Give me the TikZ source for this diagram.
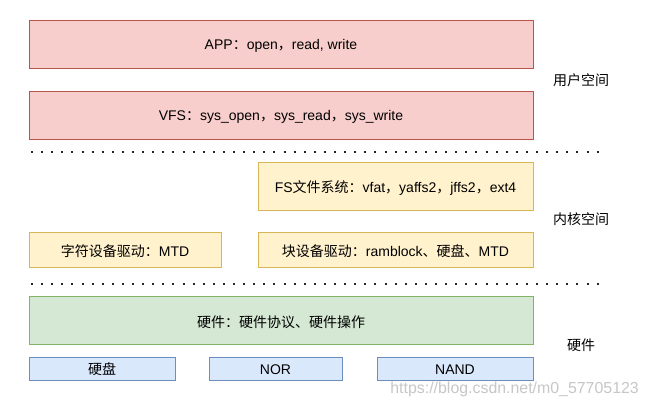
\documentclass[tikz,border=0pt]{standalone}
\usepackage{fontspec}
\setmainfont{Liberation Sans}
\newfontfamily\cjk{Noto Sans CJK SC}
\definecolor{redfill}{HTML}{F8CECC}\definecolor{redline}{HTML}{B85450}
\definecolor{yelfill}{HTML}{FFF2CC}\definecolor{yelline}{HTML}{D6B656}
\definecolor{grnfill}{HTML}{D5E8D4}\definecolor{grnline}{HTML}{82B366}
\definecolor{blufill}{HTML}{DAE8FC}\definecolor{bluline}{HTML}{6C8EBF}
\tikzset{
 box/.style={draw, line width=0.8pt, inner sep=0pt, font=\fontsize{14}{16}\selectfont},
 lbl/.style={inner sep=0pt, font=\fontsize{14}{16}\selectfont},
 redbox/.style={box, fill=redfill, draw=redline},
 yelbox/.style={box, fill=yelfill, draw=yelline},
 grnbox/.style={box, fill=grnfill, draw=grnline},
 blubox/.style={box, fill=blufill, draw=bluline},
 sep/.style={line width=2pt, dash pattern=on 2pt off 8.1pt, draw=black!85},
 side/.style={font=\fontsize{14}{16}\selectfont\cjk, anchor=center}
}
\begin{document}
\begin{tikzpicture}[x=1pt,y=-1pt]
\useasboundingbox (0,0) rectangle (647,409);
\fill[white] (0,0) rectangle (647,409);
\node[redbox, minimum width=504pt, minimum height=48pt] (app) at (281,44) {};
\node[lbl] (appt) at (281,46) {APP{\cjk ：}open{\cjk ，}read, write};
\node[redbox, minimum width=504pt, minimum height=48pt] (vfs) at (281,115) {};
\node[lbl] (vfst) at (281,117) {VFS{\cjk ：}sys\_open{\cjk ，}sys\_read{\cjk ，}sys\_write};
\coordinate (d1a) at (31,152); \coordinate (d1b) at (600,152);
\draw[sep] (d1a) -- (d1b);
\node[yelbox, minimum width=275pt, minimum height=48pt] (fs) at (395.5,186) {};
\node[lbl] (fst) at (395.5,188) {FS{\cjk 文件系统：}vfat{\cjk ，}yaffs2{\cjk ，}jffs2{\cjk ，}ext4};
\node[yelbox, minimum width=192pt, minimum height=35pt] (chr) at (125,249.5) {};
\node[lbl] (chrt) at (125,251) {{\cjk 字符设备驱动：}MTD};
\node[yelbox, minimum width=275pt, minimum height=35pt] (blk) at (395.5,249.5) {};
\node[lbl] (blkt) at (395.5,251) {{\cjk 块设备驱动：}ramblock{\cjk 、硬盘、}MTD};
\coordinate (d2a) at (31,284); \coordinate (d2b) at (600,284);
\draw[sep] (d2a) -- (d2b);
\node[grnbox, minimum width=504pt, minimum height=48pt] (hw) at (281,320) {};
\node[lbl] (hwt) at (281,322) {\cjk 硬件：硬件协议、硬件操作};
\node[blubox, minimum width=146pt, minimum height=23pt] (hd) at (102,368.5) {};
\node[lbl] (hdt) at (102,369.5) {\cjk 硬盘};
\node[blubox, minimum width=133pt, minimum height=23pt] (nor) at (275.5,368.5) {};
\node[lbl] (nort) at (275.5,369.5) {NOR};
\node[blubox, minimum width=156pt, minimum height=23pt] (nand) at (455,368.5) {};
\node[lbl] (nandt) at (455,369.5) {NAND};
\node[side] (u) at (581,80.5) {用户空间};
\node[side] (k) at (581,219.5) {内核空间};
\node[side] (h) at (581,345.5) {硬件};
\node[font=\fontsize{15.9}{18}\selectfont, text=black!22, anchor=east, inner sep=0pt] (wm) at (639,389) {https://blog.csdn.net/m0\_57705123};
\end{tikzpicture}
\end{document}
